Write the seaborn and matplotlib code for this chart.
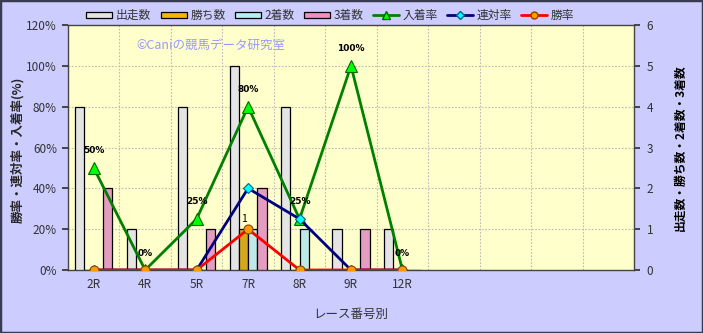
import numpy as np
import pandas as pd
import matplotlib
matplotlib.use("Agg")
import matplotlib.pyplot as plt
from matplotlib.patches import Rectangle, Patch
from matplotlib.lines import Line2D
import seaborn as sns

races = ["2R", "4R", "5R", "7R", "8R", "9R", "12R"]
n_slots = 11
runs = [4, 1, 4, 5, 4, 1, 1]
wins = [0, 0, 0, 1, 0, 0, 0]
seconds = [0, 0, 0, 1, 1, 0, 0]
thirds = [2, 0, 1, 2, 0, 1, 0]
place_rate = [50, 0, 25, 80, 25, 100, 0]
quinella_rate = [0, 0, 0, 40, 25, 0, 0]
win_rate = [0, 0, 0, 20, 0, 0, 0]

bar_names = ["出走数", "勝ち数", "2着数", "3着数"]
bar_colors = ["#E4E4E4", "#F2B800", "#B8F0F0", "#F090C0"]

sns.set_theme(style="white")
plt.rcParams["font.family"] = ["Noto Sans CJK JP", "DejaVu Sans"]

df = pd.DataFrame({
    "race": races * 4,
    "series": sum([[n] * len(races) for n in bar_names], []),
    "value": runs + wins + seconds + thirds,
})

fig = plt.figure(figsize=(7.03, 3.33), dpi=100)
fig.patch.set_facecolor("#CCCCFF")
fig.patches.append(Rectangle((0, 0), 1, 1, transform=fig.transFigure, fill=False,
                             edgecolor="#3A3A50", linewidth=2.5, zorder=10))

ax = fig.add_axes([68 / 703, 1 - 270 / 333, (634 - 68) / 703, (270 - 25) / 333])
ax.set_facecolor("#FFFFCC")

sns.barplot(data=df, x="race", y="value", hue="series", order=races,
            hue_order=bar_names, palette=bar_colors, width=0.72,
            edgecolor="black", linewidth=0.9, ax=ax, legend=False, zorder=3)

# label non-zero win count
win_container = ax.containers[1]
ax.bar_label(win_container, labels=[str(v) if v else "" for v in wins],
             padding=4, fontsize=7.5, color="black")

ax2 = ax.twinx()

ax.set_xlim(-0.5, n_slots - 0.5)
ax.set_ylim(0, 6)
ax.yaxis.tick_right()
ax.yaxis.set_label_position("right")
ax.set_yticks(range(0, 7))
ax.set_xlabel("レース番号別", fontsize=9, color="#333333", labelpad=12)
ax.set_ylabel("出走数・勝ち数・2着数・3着数", fontsize=8.5, color="black",
              fontweight="bold", rotation=90)
ax.yaxis.set_label_coords((680 - 68) / 566, 0.5)
ax.yaxis.label.set_va("center")
ax.yaxis.label.set_ha("center")
ax.set_xticks(range(len(races)))
ax.set_xticklabels(races)
ax.set_xticks(np.arange(0.5, n_slots - 0.5, 1), minor=True)
ax.tick_params(axis="x", which="major", length=0, labelsize=8.5, colors="#333333", pad=6)
ax.tick_params(axis="x", which="minor", length=4, direction="in", color="#444444")
ax.tick_params(axis="y", right=True, left=False, labelright=True, labelleft=False,
               length=4, labelsize=8.5, colors="#333333", direction="out", pad=5)
ax.grid(False)
for x in np.arange(0.5, n_slots - 0.5, 1):
    ax.axvline(x, color="#BBBBBB", linestyle=(0, (1.5, 1.5)), linewidth=0.8, zorder=1)
for y in range(1, 6):
    ax.axhline(y, color="#BBBBBB", linestyle=(0, (1.5, 1.5)), linewidth=0.8, zorder=1)
for s in ax.spines.values():
    s.set_color("#444444")
    s.set_linewidth(1)

ax2.yaxis.tick_left()
ax2.yaxis.set_label_position("left")
ax2.set_ylim(0, 120)
ax2.set_yticks(range(0, 121, 20))
ax2.set_yticklabels([f"{v}%" for v in range(0, 121, 20)])
ax2.tick_params(axis="y", left=True, right=False, labelleft=True, labelright=False,
                length=4, labelsize=8.5, colors="#333333", pad=4)
ax2.set_ylabel("勝率・連対率・入着率(%)", fontsize=9, fontweight="bold")
ax2.yaxis.set_label_coords((18 - 68) / 566, 0.49)
ax2.yaxis.label.set_va("center")
ax2.yaxis.label.set_ha("center")
for s in ax2.spines.values():
    s.set_visible(False)

pos = np.arange(len(races))
lw = 2.0
sns.lineplot(x=pos, y=place_rate, ax=ax2, color="#008000", linewidth=lw, sort=False,
             marker="^", markersize=8, markerfacecolor="#00FF00", markeredgecolor="#006600",
             markeredgewidth=0.8, zorder=5)
sns.lineplot(x=pos, y=quinella_rate, ax=ax2, color="#000080", linewidth=lw, sort=False,
             marker="D", markersize=5, markerfacecolor="#00FFFF", markeredgecolor="#006688",
             markeredgewidth=0.8, zorder=6)
sns.lineplot(x=pos, y=win_rate, ax=ax2, color="#FF0000", linewidth=lw, sort=False,
             marker="o", markersize=6.5, markerfacecolor="#FF9900", markeredgecolor="#884400",
             markeredgewidth=0.8, zorder=7)
ax2.set_xlim(-0.5, n_slots - 0.5)

for x, v in zip(pos, place_rate):
    ax2.annotate(f"{v}%", (x, v), xytext=(0, 9), textcoords="offset points",
                 ha="center", va="bottom", fontsize=6.5, fontweight="bold",
                 family="DejaVu Sans", color="black", zorder=8)

ax.text(0.12, 0.915, "©Caniの競馬データ研究室", transform=ax.transAxes,
        fontsize=9, color="#9999FF", ha="left", va="center")

handles = [Patch(facecolor=c, edgecolor="black", linewidth=0.9) for c in bar_colors]
handles += [
    Line2D([], [], color="#008000", lw=lw, marker="^", markersize=6,
           markerfacecolor="#00FF00", markeredgecolor="#006600"),
    Line2D([], [], color="#000080", lw=lw, marker="D", markersize=4,
           markerfacecolor="#00FFFF", markeredgecolor="#006688"),
    Line2D([], [], color="#FF0000", lw=lw, marker="o", markersize=5,
           markerfacecolor="#FF9900", markeredgecolor="#884400"),
]
labels = bar_names + ["入着率", "連対率", "勝率"]
fig.legend(handles, labels, loc="center", bbox_to_anchor=(0.47, 0.953), ncol=7,
           frameon=False, fontsize=8.5, handlelength=2.2, handleheight=0.5,
           handletextpad=0.3, columnspacing=0.8, labelcolor="#333333")

fig.savefig("out.png", dpi=100, facecolor=fig.get_facecolor())
